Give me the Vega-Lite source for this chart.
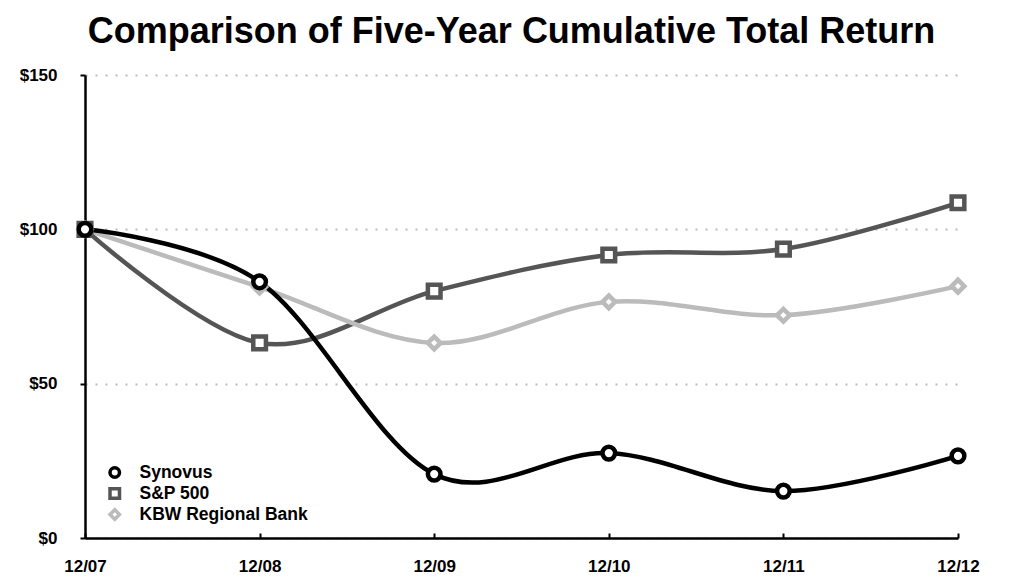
{
  "$schema": "https://vega.github.io/schema/vega-lite/v6.json",
  "width": 873,
  "height": 463,
  "autosize": {"type": "none"},
  "padding": {"left": 85, "top": 75, "right": 66, "bottom": 41},
  "background": "white",
  "title": {
    "text": "Comparison of Five-Year Cumulative Total Return",
    "font": "Liberation Sans",
    "fontSize": 36,
    "fontWeight": "bold",
    "color": "black",
    "anchor": "middle",
    "dx": -10,
    "offset": 15
  },
  "data": {
    "values": [
      {"period": "12/07", "series": "S&P 500", "value": 100},
      {"period": "12/08", "series": "S&P 500", "value": 63.2},
      {"period": "12/09", "series": "S&P 500", "value": 80},
      {"period": "12/10", "series": "S&P 500", "value": 91.7},
      {"period": "12/11", "series": "S&P 500", "value": 93.6},
      {"period": "12/12", "series": "S&P 500", "value": 108.6},
      {"period": "12/07", "series": "KBW Regional Bank", "value": 100},
      {"period": "12/08", "series": "KBW Regional Bank", "value": 81.3},
      {"period": "12/09", "series": "KBW Regional Bank", "value": 63.2},
      {"period": "12/10", "series": "KBW Regional Bank", "value": 76.5},
      {"period": "12/11", "series": "KBW Regional Bank", "value": 72.2},
      {"period": "12/12", "series": "KBW Regional Bank", "value": 81.6},
      {"period": "12/07", "series": "Synovus", "value": 100},
      {"period": "12/08", "series": "Synovus", "value": 83},
      {"period": "12/09", "series": "Synovus", "value": 20.7},
      {"period": "12/10", "series": "Synovus", "value": 27.5},
      {"period": "12/11", "series": "Synovus", "value": 15.2},
      {"period": "12/12", "series": "Synovus", "value": 26.6}
    ]
  },
  "config": {
    "view": {"stroke": null},
    "font": "Liberation Sans",
    "axis": {
      "labelFont": "Liberation Sans",
      "labelFontSize": 17,
      "labelFontWeight": "bold",
      "labelColor": "black",
      "domainColor": "black",
      "domainWidth": 2.5,
      "tickColor": "black",
      "tickWidth": 2,
      "title": null
    },
    "legend": {
      "title": null,
      "orient": "none",
      "legendX": 21,
      "legendY": 387,
      "labelFont": "Liberation Sans",
      "labelFontSize": 17.5,
      "labelFontWeight": "bold",
      "labelColor": "black",
      "labelLimit": 400,
      "symbolSize": 90,
      "symbolStrokeWidth": 3.5,
      "symbolFillColor": "white",
      "symbolType": "circle",
      "rowPadding": 0,
      "clipHeight": 21,
      "labelOffset": 16
    }
  },
  "encoding": {
    "x": {
      "field": "period",
      "type": "ordinal",
      "scale": {"type": "point", "padding": 0},
      "axis": {"labelAngle": 0, "tickSize": -5, "labelPadding": 25, "grid": false}
    },
    "y": {
      "field": "value",
      "type": "quantitative",
      "scale": {"domain": [0, 150], "nice": false},
      "axis": {
        "values": [0, 50, 100, 150],
        "labelExpr": "'$' + datum.value",
        "tickSize": 5,
        "labelPadding": 23,
        "grid": true,
        "gridColor": "#bbbbbb",
        "gridDash": [2, 8],
        "gridWidth": 2
      }
    },
    "color": {
      "field": "series",
      "type": "nominal",
      "scale": {"domain": ["Synovus", "S&P 500", "KBW Regional Bank"], "range": ["#000000", "#555555", "#bbbbbb"]}
    }
  },
  "layer": [
    {
      "mark": {"type": "line", "interpolate": "cardinal", "strokeWidth": 4.5}
    },
    {
      "mark": {"type": "point", "filled": false, "fill": "white", "size": 160, "strokeWidth": 4.5, "opacity": 1},
      "encoding": {
        "shape": {
          "field": "series",
          "type": "nominal",
          "scale": {"domain": ["Synovus", "S&P 500", "KBW Regional Bank"], "range": ["circle", "square", "diamond"]}
        }
      }
    }
  ]
}
